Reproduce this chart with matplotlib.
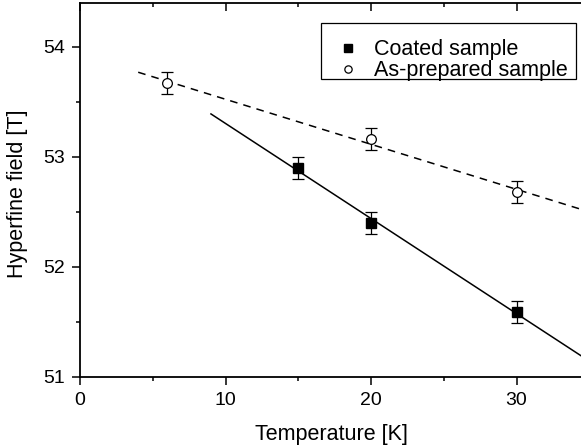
import numpy as np
import matplotlib
matplotlib.use("Agg")
import matplotlib.pyplot as plt
from matplotlib.ticker import MultipleLocator
from matplotlib import markers
from matplotlib.patches import Rectangle

plt.rcParams['font.family'] = ['Liberation Sans', 'DejaVu Sans']

# data
coated_T = [15, 20, 30]
coated_B = [52.9, 52.4, 51.59]
coated_err = [0.1, 0.1, 0.1]

asprep_T = [6, 20, 30]
asprep_B = [53.67, 53.16, 52.68]
asprep_err = [0.1, 0.1, 0.1]

# linear fits
fit_c = np.polyfit(coated_T, coated_B, 1)
fit_a = np.polyfit(asprep_T, asprep_B, 1)
xc = np.array([9, 36])
xa = np.array([4, 36])

fig = plt.figure(figsize=(5.81, 4.47), dpi=100)
ax = fig.add_axes([0.1377, 0.1566, 0.864, 0.8367])

ax.plot(xc, np.polyval(fit_c, xc), color='black', lw=1.1)
ax.plot(xa, np.polyval(fit_a, xa), color='black', lw=1.1, ls=(0, (5, 4)))

ax.errorbar(coated_T, coated_B, yerr=coated_err, fmt='s', color='black',
            ms=6.8, capsize=4, elinewidth=0.9, capthick=0.9, label='Coated sample')
ax.errorbar(asprep_T, asprep_B, yerr=asprep_err, fmt='o', color='black', mfc='white',
            ms=7, mew=0.9, capsize=4, elinewidth=0.9, capthick=0.9,
            label='As-prepared sample')

ax.set_xlim(0, 34.5)
ax.set_ylim(51, 54.4)
ax.xaxis.set_major_locator(MultipleLocator(10))
ax.xaxis.set_minor_locator(MultipleLocator(5))
ax.yaxis.set_major_locator(MultipleLocator(1))
ax.yaxis.set_minor_locator(MultipleLocator(0.5))

ax.spines['right'].set_visible(False)
for s in ['left', 'bottom', 'top']:
    ax.spines[s].set_linewidth(1.3)

ax.tick_params(which='both', direction='out', width=1.1, labelsize=14)
ax.tick_params(which='major', length=5.8, pad=5)
ax.tick_params(which='minor', length=3)
ax.xaxis.set_tick_params(which='both', top=True, labeltop=False)
# top ticks point inward
for tick in ax.xaxis.get_major_ticks() + ax.xaxis.get_minor_ticks():
    tick.tick2line.set_marker(markers.TICKDOWN)

ax.set_xlabel('Temperature [K]', fontsize=15.5)
ax.set_ylabel('Hyperfine field [T]', fontsize=15.5)
ax.xaxis.set_label_coords(0.5, -0.125)
ax.yaxis.set_label_coords(-0.1036, 0.49)

# legend: entries without frame, box drawn separately (more room on top)
handles, labels = ax.get_legend_handles_labels()
leg = ax.legend([h[0] for h in handles], labels, loc='upper left',
                bbox_to_anchor=(0.4952, 0.9024), fontsize=15.5, frameon=False,
                handletextpad=0.3, borderpad=0, labelspacing=0.0,
                handlelength=1.8, markerscale=0.75, borderaxespad=0)
ax.add_patch(Rectangle((0.480, 0.797), 0.508, 0.1495, transform=ax.transAxes,
                       fill=False, edgecolor='black', lw=0.9, zorder=5))

fig.savefig('out.png', dpi=100)
